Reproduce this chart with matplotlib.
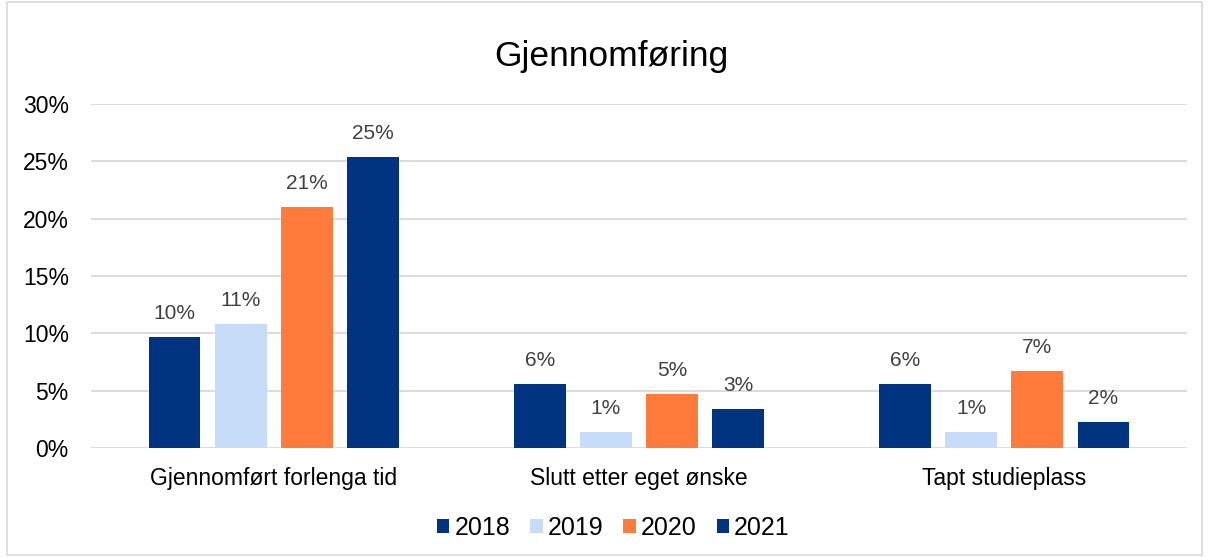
import numpy as np
import matplotlib
matplotlib.use('Agg')
import matplotlib.pyplot as plt
from matplotlib.patches import Rectangle

# Data
kategorier = ['Gjennomført forlenga tid', 'Slutt etter eget ønske', 'Tapt studieplass']
aar = ['2018', '2019', '2020', '2021']
v2018 = [9.7, 5.6, 5.6]
v2019 = [10.8, 1.4, 1.4]
v2020 = [21.0, 4.7, 6.7]
v2021 = [25.4, 3.4, 2.3]
serier = [v2018, v2019, v2020, v2021]
farger = ['#003380', '#C6DCF8', '#FF7B3C', '#003380']

plt.rcParams['font.family'] = ['Liberation Sans', 'DejaVu Sans']

fig = plt.figure(figsize=(12.09, 5.57), dpi=100)
fig.patches.append(Rectangle((0.006, 0.004), 0.988, 0.992, transform=fig.transFigure,
                             fill=False, edgecolor='#D9D9D9', linewidth=1.2))
ax = fig.add_axes([0.0753, 0.1957, 0.9065, 0.6176])

x = np.arange(len(kategorier))
steg = 0.181
bredde = 0.142
for i, (verdier, farge) in enumerate(zip(serier, farger)):
    pos = x + (i - 1.5) * steg
    ax.bar(pos, verdier, width=bredde, color=farge, label=aar[i], zorder=3)
    for p, v in zip(pos, verdier):
        ax.annotate(f'{int(np.floor(v + 0.5))}%', (p, v), xytext=(0, 10),
                    textcoords='offset points', ha='center', va='bottom',
                    fontsize=15, color='#404040')

ax.set_xlim(-0.5, 2.5)
ax.set_ylim(0, 30)
ax.set_yticks(np.arange(0, 31, 5))
ax.set_yticklabels([f'{t}%' for t in range(0, 31, 5)], fontsize=16.5)
ax.set_xticks(x)
ax.set_xticklabels(kategorier, fontsize=16.5)
ax.tick_params(axis='both', length=0, colors='#000000')
ax.tick_params(axis='y', pad=16)
ax.tick_params(axis='x', pad=14)
for s in ax.spines.values():
    s.set_visible(False)
ax.grid(axis='y', color='#D9D9D9', linewidth=1.3, zorder=0)
ax.set_axisbelow(True)

ax.set_title('Gjennomføring', fontsize=25.5, pad=27, x=0.4745)

ax.legend(loc='center', bbox_to_anchor=(0.4765, -0.232), ncol=4, frameon=False,
          fontsize=18, handlelength=0.5, handleheight=0.5, handletextpad=0.2,
          columnspacing=0.8)

plt.savefig('out.png', dpi=100)
plt.close()
